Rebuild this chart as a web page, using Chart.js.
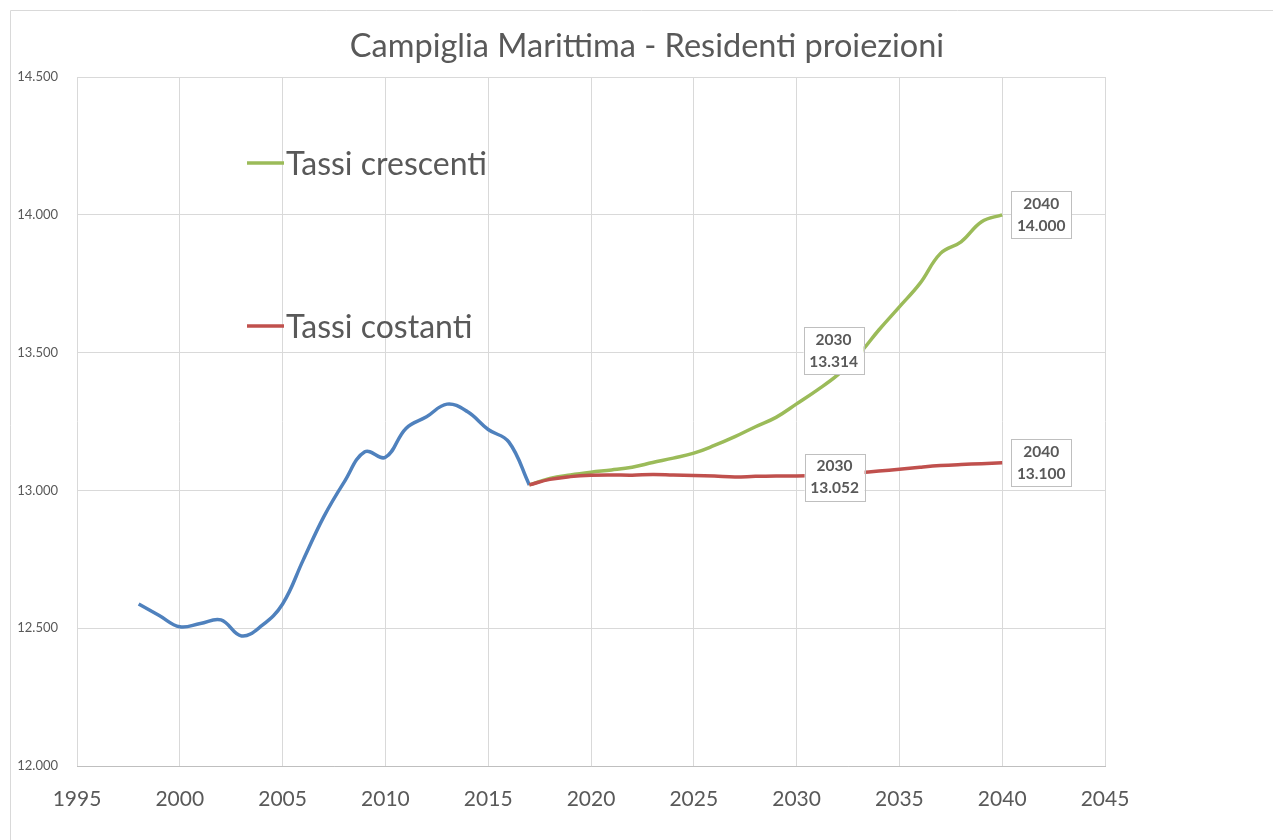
<!DOCTYPE html>
<html>
<head>
<meta charset="utf-8">
<script src="https://cdn.jsdelivr.net/npm/chart.js@4"></script>
<style>
  html, body { margin: 0; padding: 0; background: #fff; }
  #wrap { width: 1273px; height: 840px; }
</style>
</head>
<body>
<div id="wrap"><canvas id="myChart" width="1273" height="840"></canvas></div>
<script>
// storico residenti 1998-2017
const anniStorico = [1998, 1999, 2000, 2001, 2002, 2003, 2004, 2005, 2006, 2007, 2008, 2009, 2010, 2011, 2012, 2013, 2014, 2015, 2016, 2017];
const residenti = [12588, 12546, 12505, 12517, 12530, 12472, 12510, 12588, 12747, 12904, 13031, 13140, 13120, 13225, 13267, 13313, 13285, 13221, 13176, 13020];

// proiezioni 2017-2040
const anniProiezione = [2017, 2018, 2019, 2020, 2021, 2022, 2023, 2024, 2025, 2026, 2027, 2028, 2029, 2030, 2031, 2032, 2033, 2034, 2035, 2036, 2037, 2038, 2039, 2040];
const tassiCrescenti = [13020, 13043, 13056, 13066, 13074, 13084, 13101, 13117, 13135, 13163, 13195, 13231, 13265, 13314, 13364, 13419, 13491, 13582, 13666, 13751, 13860, 13902, 13975, 14000];
const tassiCostanti = [13020, 13040, 13050, 13055, 13056, 13055, 13058, 13056, 13054, 13052, 13049, 13051, 13052, 13052, 13054, 13058, 13064, 13070, 13077, 13084, 13090, 13094, 13097, 13100];

const etichetteAnni = [2030, 2040];
const titolo = 'Campiglia Marittima - Residenti proiezioni';

const GREEN = '#9bbb59';
const RED = '#c0504d';
const BLUE = '#4f81bd';
const TEXT = '#595959';

function fmt(n) {
  return String(Math.round(n)).replace(/\B(?=(\d{3})+(?!\d))/g, '.');
}
function toXY(xs, ys) {
  return xs.map((x, i) => ({ x: x, y: ys[i] }));
}

// frame, title and legend like the excel sheet
const decor = {
  id: 'decor',
  beforeDraw(chart) {
    const c = chart.ctx;
    c.save();
    c.strokeStyle = '#d9d9d9';
    c.lineWidth = 1;
    c.beginPath();
    c.moveTo(10.5, 840);
    c.lineTo(10.5, 10.5);
    c.lineTo(1273, 10.5);
    c.stroke();
    c.restore();
  },
  afterDraw(chart) {
    const c = chart.ctx;
    c.save();
    c.fillStyle = TEXT;
    c.font = '32.5px Lato, "Open Sans", sans-serif';
    c.textAlign = 'center';
    c.textBaseline = 'middle';
    c.fillText(titolo, 647, 47);

    const leg = [['Tassi crescenti', GREEN, 165], ['Tassi costanti', RED, 328]];
    c.font = '32px Lato, "Open Sans", sans-serif';
    c.textAlign = 'left';
    leg.forEach(([t, col, y]) => {
      c.strokeStyle = col;
      c.lineWidth = 3.5;
      c.beginPath();
      c.moveTo(247, y - 2);
      c.lineTo(284, y - 2);
      c.stroke();
      c.fillStyle = TEXT;
      c.fillText(t, 286, y);
    });
    c.restore();
  }
};

// data label boxes (anno + valore)
const labelBoxes = {
  id: 'labelBoxes',
  afterDatasetsDraw(chart) {
    const c = chart.ctx;
    const offs = {
      1: { 2030: [37, -53], 2040: [39, 0] },
      0: { 2030: [38, 1], 2040: [39, 0] }
    };
    c.save();
    [0, 1].forEach(di => {
      const meta = chart.getDatasetMeta(di);
      etichetteAnni.forEach(anno => {
        const idx = anniProiezione.indexOf(anno);
        const p = meta.data[idx];
        const val = chart.data.datasets[di].data[idx].y;
        const [dx, dy] = offs[di][anno];
        const cx = p.x + dx, cy = p.y + dy;
        const w = 60, h = 47;
        c.fillStyle = '#fff';
        c.fillRect(cx - w / 2, cy - h / 2, w, h);
        c.strokeStyle = '#bfbfbf';
        c.lineWidth = 1;
        c.strokeRect(Math.round(cx - w / 2) + 0.5, Math.round(cy - h / 2) + 0.5, w, h);
        c.fillStyle = TEXT;
        c.font = 'bold 15.5px Lato, "Open Sans", sans-serif';
        c.textAlign = 'center';
        c.textBaseline = 'middle';
        c.fillText(String(anno), cx, cy - 11);
        c.fillText(fmt(val), cx, cy + 11);
      });
    });
    c.restore();
  }
};

const ctx = document.getElementById('myChart').getContext('2d');
const myChart = new Chart(ctx, {
  type: 'line',
  data: {
    datasets: [
      { label: 'Tassi costanti', data: toXY(anniProiezione, tassiCostanti), borderColor: RED, borderWidth: 3.5, pointRadius: 0, tension: 0.4, fill: false },
      { label: 'Tassi crescenti', data: toXY(anniProiezione, tassiCrescenti), borderColor: GREEN, borderWidth: 3.5, pointRadius: 0, tension: 0.4, fill: false },
      { label: 'Residenti', data: toXY(anniStorico, residenti), borderColor: BLUE, borderWidth: 3.5, pointRadius: 0, tension: 0.4, fill: false }
    ]
  },
  options: {
    responsive: false,
    animation: false,
    layout: { padding: { top: 77, right: 168, bottom: 0, left: 0 } },
    plugins: {
      legend: { display: false },
      tooltip: { enabled: false },
      title: { display: false }
    },
    scales: {
      x: {
        type: 'linear',
        min: 1995,
        max: 2045,
        afterFit(s) { s.height = 74; },
        ticks: {
          stepSize: 5,
          color: TEXT,
          padding: 21,
          font: { family: 'Lato, "Open Sans", sans-serif', size: 21 },
          callback: v => String(v),
          maxRotation: 0
        },
        grid: { color: '#d9d9d9', drawTicks: false },
        border: { color: '#bfbfbf', width: 1 }
      },
      y: {
        min: 12000,
        max: 14500,
        afterFit(s) { s.width = 77; },
        ticks: {
          stepSize: 500,
          color: TEXT,
          padding: 19,
          font: { family: 'Lato, "Open Sans", sans-serif', size: 13 },
          callback: v => fmt(v)
        },
        grid: { color: '#d9d9d9', drawTicks: false },
        border: { display: false }
      }
    }
  },
  plugins: [decor, labelBoxes]
});
</script>
</body>
</html>
